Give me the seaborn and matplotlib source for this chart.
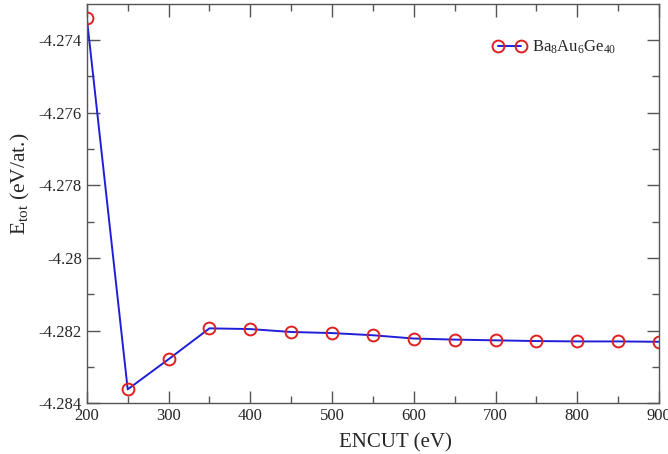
import matplotlib
matplotlib.use("Agg")
import matplotlib.pyplot as plt
import pandas as pd
import seaborn as sns
from matplotlib.ticker import FormatStrFormatter, MultipleLocator


ENCUT = [200, 250, 300, 350, 400, 450, 500, 550, 600, 650, 700, 750, 800, 850, 900]
E_TOT = [-4.27340, -4.28362, -4.28279, -4.28194, -4.28196, -4.28204, -4.28207,
         -4.28213, -4.28222, -4.28225, -4.28227, -4.28229, -4.28230, -4.28230, -4.28231]
LABEL = r"Ba$_8$Au$_6$Ge$_{40}$"


def main() -> None:
    sns.set_style("ticks")
    plt.rcParams["font.family"] = ["Liberation Serif", "DejaVu Serif"]
    plt.rcParams["mathtext.fontset"] = "custom"
    plt.rcParams["mathtext.rm"] = "Liberation Serif"
    plt.rcParams["mathtext.it"] = "Liberation Serif:italic"

    df = pd.DataFrame({"encut": ENCUT, "etot": E_TOT})

    fig, ax = plt.subplots(figsize=(6.68, 4.54), dpi=100)
    fig.subplots_adjust(left=0.130, right=0.9865, top=0.991, bottom=0.112)

    sns.lineplot(
        data=df, x="encut", y="etot", ax=ax, color="#1f1fd8", linewidth=1.4,
        marker="o", markersize=8.5, markerfacecolor="none",
        markeredgecolor="#e02020", markeredgewidth=1.4, label=LABEL,
    )

    ax.set_xlim(200, 900)
    ax.set_ylim(-4.284, -4.27301)
    ax.xaxis.set_major_locator(MultipleLocator(100))
    ax.xaxis.set_minor_locator(MultipleLocator(50))
    ax.yaxis.set_major_locator(MultipleLocator(0.002))
    ax.yaxis.set_minor_locator(MultipleLocator(0.001))
    ax.yaxis.set_major_formatter(FormatStrFormatter("%g"))
    ax.tick_params(which="both", direction="in", top=True, right=True,
                   color="#555555", labelsize=12)
    ax.tick_params(which="major", length=9, width=1)
    ax.tick_params(which="minor", length=5, width=1)
    for s in ax.spines.values():
        s.set_color("#555555")
        s.set_linewidth(1)

    ax.set_xlabel("ENCUT (eV)", fontsize=15)
    ax.set_ylabel(r"E$_{\rm tot}$ (eV/at.)", fontsize=15.5)
    ax.xaxis.set_label_coords(0.54, -0.075)
    ax.yaxis.set_label_coords(-0.096, 0.55)

    ax.legend(loc="upper right", frameon=False, numpoints=2, fontsize=12,
              handlelength=2.0, handletextpad=0.35,
              bbox_to_anchor=(0.951, 0.95))

    fig.savefig("out.png", dpi=100)
    plt.close(fig)


if __name__ == "__main__":
    main()
